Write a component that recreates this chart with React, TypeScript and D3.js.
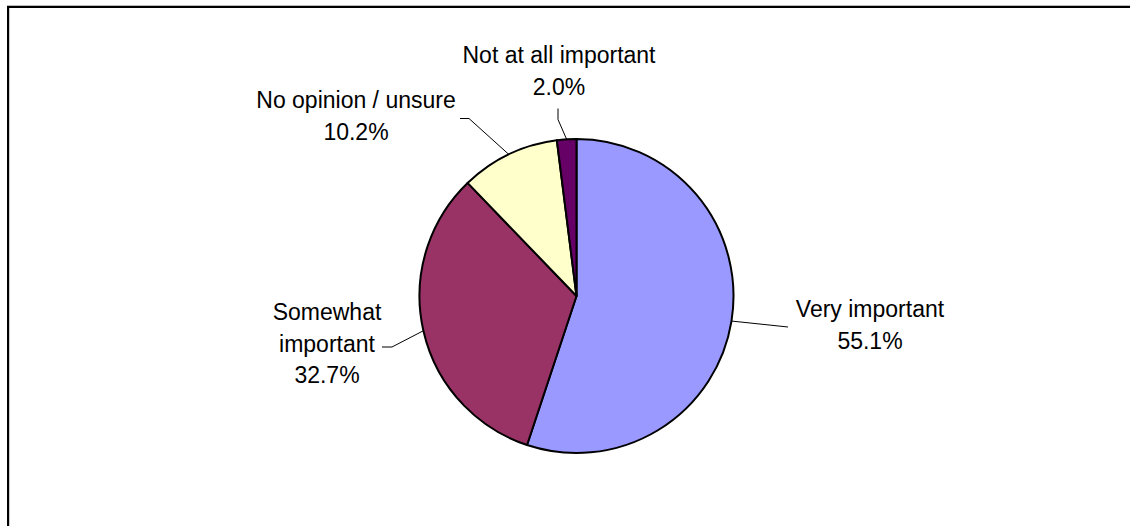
import React from "react";
import * as d3 from "d3";

const categories = ["Very important", "Somewhat important", "No opinion / unsure", "Not at all important"];
const values = [55.1, 32.7, 10.2, 2.0];
const colors = ["#9999FF", "#993366", "#FFFFCC", "#660066"];
const labelLines = [["Very important"], ["Somewhat", "important"], ["No opinion / unsure"], ["Not at all important"]];

const W = 1130;
const H = 526;
const cx = 576.5;
const cy = 296;
const R = 157;
const fontSize = 23;
const lineH = 31.5;

// label layout: center x, first baseline y, leader elbow and leader end
const labelLayout = [
  { x: 870, y: 317, elbow: [788, 327], end: [788, 327] },
  { x: 327, y: 320, elbow: [392, 347], end: [382, 347] },
  { x: 356, y: 108, elbow: [469, 118.5], end: [460, 118.5] },
  { x: 559, y: 63, elbow: [558, 119.5], end: [558, 108.5] },
];

export default function App() {
  const pie = d3.pie<number>().sort(null).value((d) => d);
  const arcs = pie(values);
  const arc = d3.arc<d3.PieArcDatum<number>>().innerRadius(0).outerRadius(R);

  return (
    <svg
      width={W}
      height={H}
      style={{ position: "absolute", left: 0, top: 0, background: "#fff" }}
      fontFamily="'Liberation Sans', Arial, sans-serif"
    >
      <rect x={0} y={0} width={W} height={H} fill="#fff" />
      {/* frame */}
      <line x1={7} y1={5.5} x2={W} y2={5.5} stroke="#bbb" strokeWidth={1} />
      <line x1={9.5} y1={8} x2={9.5} y2={H} stroke="#ccc" strokeWidth={1} />
      <rect x={8} y={7} width={W + 50} height={H + 50} fill="none" stroke="#000" strokeWidth={2} />

      <g transform={`translate(${cx},${cy})`}>
        {arcs.map((a, i) => (
          <path key={categories[i]} d={arc(a) || ""} fill={colors[i]} stroke="#000" strokeWidth={2} strokeLinejoin="round" />
        ))}
      </g>

      {arcs.map((a, i) => {
        const mid = (a.startAngle + a.endAngle) / 2;
        const px = cx + R * Math.sin(mid);
        const py = cy - R * Math.cos(mid);
        const L = labelLayout[i];
        const pts = [[px, py], L.elbow, L.end];
        return (
          <polyline
            key={"l" + i}
            points={pts.map((p) => p.join(",")).join(" ")}
            fill="none"
            stroke="#000"
            strokeWidth={1}
          />
        );
      })}

      {labelLines.map((lines, i) => {
        const L = labelLayout[i];
        const all = [...lines, d3.format(".1f")(values[i]) + "%"];
        return (
          <text key={"t" + i} x={L.x} y={L.y} textAnchor="middle" fontSize={fontSize} fill="#000">
            {all.map((s, j) => (
              <tspan key={j} x={L.x} y={L.y + j * lineH}>
                {s}
              </tspan>
            ))}
          </text>
        );
      })}
    </svg>
  );
}
